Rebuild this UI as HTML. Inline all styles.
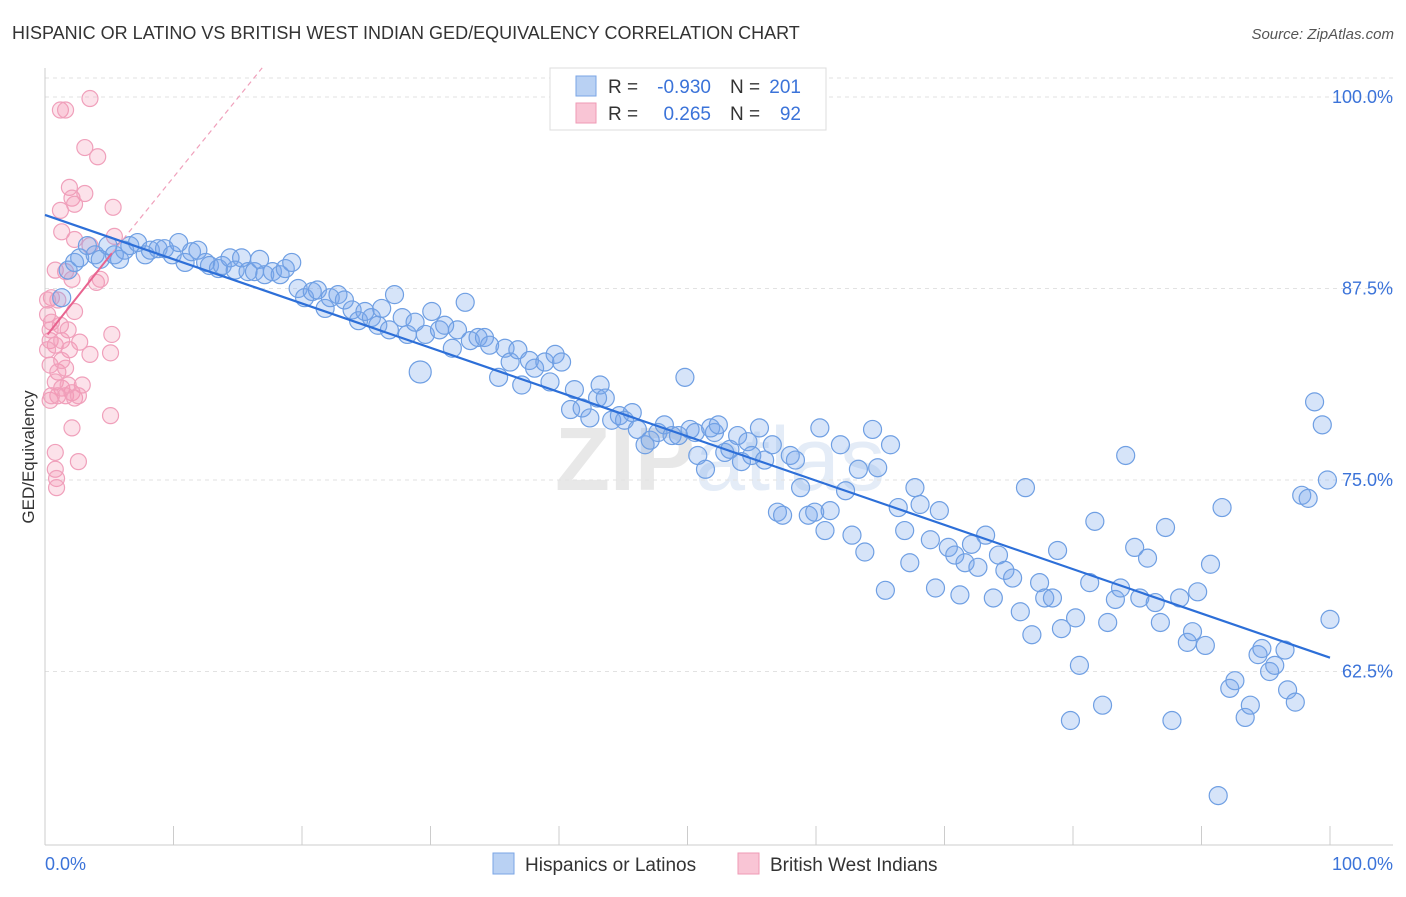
<!DOCTYPE html>
<html><head><meta charset="utf-8"><style>
body{margin:0;background:#fff;font-family:"Liberation Sans",sans-serif;}
svg text{font-family:"Liberation Sans",sans-serif;}
</style></head><body>
<svg id="chart" width="1406" height="892" viewBox="0 0 1406 892" xmlns="http://www.w3.org/2000/svg">
<text x="12" y="39" font-size="18" fill="#333">HISPANIC OR LATINO VS BRITISH WEST INDIAN GED/EQUIVALENCY CORRELATION CHART</text>
<text x="1394" y="39" font-size="15" fill="#555" text-anchor="end" font-style="italic">Source: ZipAtlas.com</text>
<text x="720" y="490" font-size="90" fill="#e8e8e8" text-anchor="middle" font-weight="bold">ZIP<tspan fill="#e4ecf7" font-weight="normal">atlas</tspan></text>
<g id="grid"></g>
<g id="axes"></g>
<g id="pink"></g>
<g id="blue"></g>
<g id="trends"></g>
<text transform="translate(34,457) rotate(-90)" font-size="17" fill="#333" text-anchor="middle">GED/Equivalency</text>
<text x="45" y="870" font-size="18" fill="#3b73d9">0.0%</text>
<text x="1393" y="870" font-size="18" fill="#3b73d9" text-anchor="end">100.0%</text>
<g>
<rect x="550" y="68" width="276" height="62" fill="#fff" stroke="#ddd"/>
<rect x="576" y="76" width="20" height="20" fill="#b9d1f3" stroke="#7aa5e6"/>
<rect x="576" y="103" width="20" height="20" fill="#f9c5d5" stroke="#ef9ab5"/>
<text x="608" y="93" font-size="19" fill="#333">R =</text>
<text x="711" y="93" font-size="19" fill="#3b73d9" text-anchor="end">-0.930</text>
<text x="730" y="93" font-size="19" fill="#333">N =</text>
<text x="801" y="93" font-size="19" fill="#3b73d9" text-anchor="end">201</text>
<text x="608" y="120" font-size="19" fill="#333">R =</text>
<text x="711" y="120" font-size="19" fill="#3b73d9" text-anchor="end">0.265</text>
<text x="730" y="120" font-size="19" fill="#333">N =</text>
<text x="801" y="120" font-size="19" fill="#3b73d9" text-anchor="end">92</text>
</g>
<g>
<rect x="493" y="853" width="21" height="21" fill="#b9d1f3" stroke="#7aa5e6"/>
<text x="525" y="871" font-size="19" fill="#333">Hispanics or Latinos</text>
<rect x="738" y="853" width="21" height="21" fill="#f9c5d5" stroke="#ef9ab5"/>
<text x="770" y="871" font-size="19" fill="#333">British West Indians</text>
</g>
</svg>
<script>
const yTicks=[100,87.5,75,62.5];
const yTickLabels=["100.0%","87.5%","75.0%","62.5%"];
const xTicks=[0,10,20,30,40,50,60,70,80,90,100];
const blueX=[1.3,1.8,2.3,2.7,3.3,3.9,4.3,4.9,5.4,5.8,6.2,6.6,7.2,7.8,8.2,8.8,9.3,9.9,10.4,10.9,11.4,11.9,12.5,12.8,13.5,13.8,14.4,14.8,15.3,15.8,16.3,16.7,17.1,17.7,18.3,18.7,19.2,19.7,20.2,20.8,21.2,21.8,22.2,22.8,23.3,23.9,24.4,24.9,25.4,25.9,26.2,26.8,27.2,27.8,28.2,28.8,29.2,29.6,30.1,30.7,31.1,31.7,32.1,32.7,33.1,33.7,34.2,34.6,35.3,35.8,36.2,36.8,37.1,37.7,38.1,38.9,39.3,39.7,40.2,40.9,41.2,41.8,42.4,43.0,43.2,43.6,44.1,44.7,45.1,45.7,46.1,46.7,47.1,47.7,48.2,48.8,49.3,49.8,50.2,50.6,50.8,51.4,51.8,52.1,52.4,52.9,53.3,53.9,54.2,54.7,55.0,55.6,56.0,56.6,57.0,57.4,58.0,58.4,58.8,59.4,59.9,60.3,60.7,61.1,61.9,62.3,62.8,63.3,63.8,64.4,64.8,65.4,65.8,66.4,66.9,67.3,67.7,68.1,68.9,69.3,69.6,70.3,70.8,71.2,71.6,72.1,72.6,73.2,73.8,74.2,74.7,75.3,75.9,76.3,76.8,77.4,77.8,78.4,78.8,79.1,79.8,80.2,80.5,81.3,81.7,82.3,82.7,83.3,83.7,84.1,84.8,85.2,85.8,86.4,86.8,87.2,87.7,88.3,88.9,89.3,89.7,90.3,90.7,91.3,91.6,92.2,92.6,93.4,93.8,94.4,94.7,95.3,95.7,96.5,96.7,97.3,97.8,98.3,98.8,99.4,99.8,100];
const blueY=[86.9,88.7,89.2,89.5,90.3,89.7,89.4,90.3,89.7,89.4,90.0,90.3,90.5,89.7,90.0,90.1,90.1,89.7,90.5,89.2,89.9,90.0,89.2,89.0,88.8,89.0,89.5,88.7,89.5,88.6,88.6,89.4,88.4,88.6,88.4,88.8,89.2,87.5,86.9,87.3,87.4,86.2,86.9,87.1,86.75,86.1,85.4,86.0,85.6,85.1,86.2,84.8,87.1,85.6,84.5,85.3,82.05,84.5,86.0,84.8,85.1,83.6,84.8,86.6,84.1,84.3,84.3,83.8,81.7,83.6,82.7,83.5,81.2,82.8,82.3,82.7,81.4,83.2,82.7,79.6,80.9,79.7,79.05,80.35,81.2,80.35,78.9,79.2,78.9,79.4,78.3,77.3,77.6,78.1,78.6,77.9,77.9,81.7,78.3,78.1,76.6,75.7,78.4,78.1,78.6,76.8,77.0,77.9,76.2,77.5,76.6,78.4,76.3,77.3,72.9,72.7,76.6,76.3,74.5,72.7,72.9,78.4,71.7,73.0,77.3,74.3,71.4,75.7,70.3,78.3,75.8,67.8,77.3,73.2,71.7,69.6,74.5,73.4,71.1,67.95,73.0,70.6,70.1,67.5,69.6,70.8,69.3,71.4,67.3,70.1,69.1,68.6,66.4,74.5,64.9,68.3,67.3,67.3,70.4,65.3,59.3,66.0,62.9,68.3,72.3,60.3,65.7,67.2,67.95,76.6,70.6,67.3,69.9,67.0,65.7,71.9,59.3,67.3,64.4,65.1,67.7,64.2,69.5,54.4,73.2,61.4,61.9,59.5,60.3,63.6,64.0,62.5,62.9,63.9,61.3,60.5,74.0,73.8,80.1,78.6,75.0,65.9];
const pinkX=[1.2,1.6,3.5,3.1,4.1,1.9,2.1,3.1,1.2,2.3,5.3,1.3,2.3,5.4,3.5,0.8,1.6,2.1,4.0,4.3,0.5,1.0,0.2,0.5,1.2,1.8,2.3,0.4,0.8,1.3,1.9,2.7,3.5,5.2,5.1,0.4,1.0,1.6,0.8,1.3,2.1,2.9,0.4,1.0,1.6,2.3,5.1,2.1,0.8,2.6,0.8,0.9,0.9,0.2,0.4,0.2,0.5,1.8,1.3,2.6];
const pinkY=[99.15,99.15,99.9,96.7,96.1,94.1,93.4,93.7,92.6,93.0,92.8,91.2,90.7,90.9,90.3,88.7,88.6,88.1,87.9,88.1,86.9,86.75,85.8,85.3,85.1,84.8,86.0,84.1,83.8,84.1,83.5,84.0,83.2,84.5,83.3,82.5,82.05,82.3,81.4,81.0,80.7,81.2,80.2,80.5,80.5,80.35,79.2,78.4,76.8,76.2,75.7,75.1,74.5,86.75,84.8,83.5,80.5,81.2,82.8,80.5];
const blueTrend=[[0,92.3],[100,63.4]];
const pinkTrendSolid=[[0.2,84.5],[5.2,89.8]];
const pinkTrendDashed=[[5.2,89.8],[16.9,101.9]];

const NS="http://www.w3.org/2000/svg";
function xs(v){return 45+v*12.85;}
function ys(v){return 97+(100-v)*15.32;}
function mk(tag,attrs,parent){const e=document.createElementNS(NS,tag);for(const k in attrs)e.setAttribute(k,attrs[k]);parent.appendChild(e);return e;}
const grid=document.getElementById('grid'),axes=document.getElementById('axes');
const tg=mk('line',{x1:45,x2:1393,y1:78,y2:78,stroke:'#e2e2e2','stroke-dasharray':'4,4'},grid);


yTicks.forEach((t,i)=>{
  const l=mk('line',{x1:45,x2:1393,y1:ys(t),y2:ys(t),stroke:'#e2e2e2','stroke-dasharray':'4,4'},grid);
  
  
  const tx=mk('text',{x:1393,y:ys(t)+6,'font-size':18,fill:'#3b73d9','text-anchor':'end'},axes);
  tx.textContent=yTickLabels[i];
  
  
});
const ya=mk('line',{x1:45,x2:45,y1:68,y2:845,stroke:'#ccc'},axes);


const xa=mk('line',{x1:45,x2:1393,y1:845,y2:845,stroke:'#ccc'},axes);


xTicks.forEach(t=>{
  const l=mk('line',{x1:xs(t),x2:xs(t),y1:826,y2:845,stroke:'#ccc'},axes);
  
  
});
const pink=document.getElementById('pink');
pinkX.forEach((x,i)=>{
  const c=mk('circle',{cx:xs(x),cy:ys(pinkY[i]),r:8,fill:'rgba(244,150,180,0.28)',stroke:'#f0a0bb','stroke-width':1.2},pink);
  
  
});
const blue=document.getElementById('blue');
blueX.forEach((x,i)=>{
  const big=(Math.abs(x-29.2)<0.01&&Math.abs(blueY[i]-82.05)<0.01);
  const c=mk('circle',{cx:xs(x),cy:ys(blueY[i]),r:big?11:9,fill:'rgba(120,165,235,0.3)',stroke:'#6f9fe3','stroke-width':1.2},blue);
  
  
});
const tr=document.getElementById('trends');
const bl=mk('line',{x1:xs(blueTrend[0][0]),y1:ys(blueTrend[0][1]),x2:xs(blueTrend[1][0]),y2:ys(blueTrend[1][1]),stroke:'#2d6fd8','stroke-width':2.2},tr);


const pd=mk('line',{x1:xs(pinkTrendDashed[0][0]),y1:ys(pinkTrendDashed[0][1]),x2:xs(pinkTrendDashed[1][0]),y2:ys(pinkTrendDashed[1][1]),stroke:'#f0a0bb','stroke-width':1.2,'stroke-dasharray':'5,4'},tr);


const ps=mk('line',{x1:xs(pinkTrendSolid[0][0]),y1:ys(pinkTrendSolid[0][1]),x2:xs(pinkTrendSolid[1][0]),y2:ys(pinkTrendSolid[1][1]),stroke:'#e8638f','stroke-width':2},tr);


</script>
</body></html>
